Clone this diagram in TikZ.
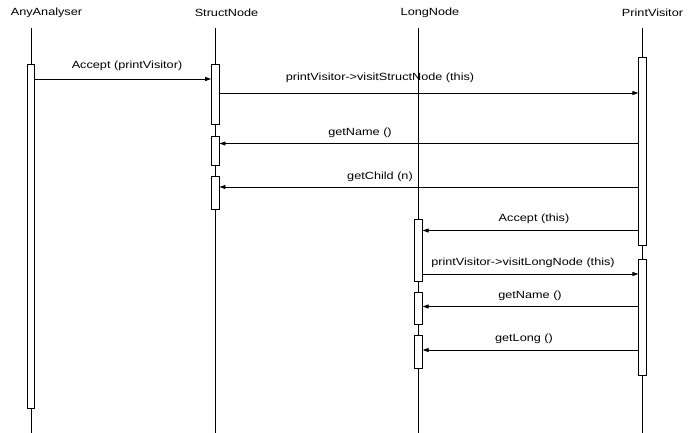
\documentclass[tikz,border=0pt]{standalone}
\usepackage{fontspec}
\setmainfont{Liberation Sans}[FakeStretch=1.22]
\usetikzlibrary{arrows.meta}
\begin{document}
\begin{tikzpicture}[x=1pt,y=-1pt,
  lbl/.style={inner sep=0pt,font=\fontsize{10.4}{12}\selectfont},
  life/.style={draw=black,line width=0.8pt},
  act/.style={draw=black,fill=white,line width=0.8pt,minimum width=7.5pt,inner sep=0pt},
  msg/.style={draw=black,line width=0.8pt,-{Triangle[length=6pt,width=4pt]}}]
\useasboundingbox (0,0) rectangle (697,433);
% heads
\node[lbl] (hAA) at (46.5,13) {AnyAnalyser};
\node[lbl] (hSN) at (226.5,13) {StructNode};
\node[lbl] (hLN) at (430,13) {LongNode};
\node[lbl] (hPV) at (652.5,13) {PrintVisitor};
\coordinate (tAA) at (31,28);
\coordinate (tSN) at (215.3,28);
\coordinate (tLN) at (418.5,28);
\coordinate (tPV) at (642.5,28);
\coordinate (eAA) at (31,433);
\coordinate (eSN) at (215.3,433);
\coordinate (eLN) at (418.5,433);
\coordinate (ePV) at (642.5,433);
\draw[life] (tAA) -- (eAA);
\draw[life] (tSN) -- (eSN);
\draw[life] (tLN) -- (eLN);
\draw[life] (tPV) -- (ePV);
% activations
\node[act,minimum height=344pt] (aa1) at (31,236) {};
\node[act,minimum height=60pt] (sn1) at (215.3,94) {};
\node[act,minimum height=29pt] (sn2) at (215.3,150.5) {};
\node[act,minimum height=33pt] (sn3) at (215.3,192.5) {};
\node[act,minimum height=62pt] (ln1) at (418.5,250) {};
\node[act,minimum height=32pt] (ln2) at (418.5,308) {};
\node[act,minimum height=33pt] (ln3) at (418.5,351.5) {};
\node[act,minimum height=188pt] (pv1) at (642.5,151) {};
\node[act,minimum height=116pt] (pv2) at (642.5,317) {};
% messages
\draw[msg] (aa1.east |- 0,79) -- (sn1.west |- 0,79);
\node[lbl] (m1) at (127,65.5) {Accept (printVisitor)};
\draw[msg] (sn1.east |- 0,93) -- (pv1.west |- 0,93);
\node[lbl] (m2) at (380,78) {printVisitor->visitStructNode (this)};
\draw[msg] (pv1.west |- 0,143.5) -- (sn2.east |- 0,143.5);
\node[lbl] (m3) at (360,133) {getName ()};
\draw[msg] (pv1.west |- 0,187) -- (sn3.east |- 0,187);
\node[lbl] (m4) at (380,176.5) {getChild (n)};
\draw[msg] (pv1.west |- 0,230.5) -- (ln1.east |- 0,230.5);
\node[lbl] (m5) at (534,219) {Accept (this)};
\draw[msg] (ln1.east |- 0,274) -- (pv2.west |- 0,274);
\node[lbl] (m6) at (523,263) {printVisitor->visitLongNode (this)};
\draw[msg] (pv2.west |- 0,306.5) -- (ln2.east |- 0,306.5);
\node[lbl] (m7) at (530,296) {getName ()};
\draw[msg] (pv2.west |- 0,350) -- (ln3.east |- 0,350);
\node[lbl] (m8) at (524,339) {getLong ()};
\end{tikzpicture}
\end{document}
